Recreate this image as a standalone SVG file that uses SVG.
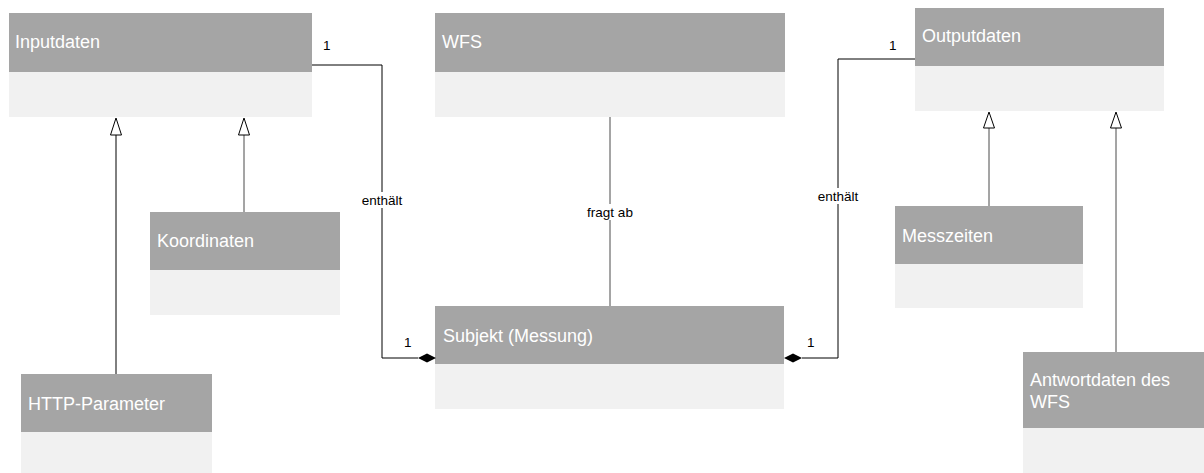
<svg xmlns="http://www.w3.org/2000/svg" width="1204" height="473" viewBox="0 0 1204 473">
<style>
.hd{fill:#a5a5a5;}
.bd{fill:#f1f1f1;}
.tt{font-family:"Liberation Sans",Arial,sans-serif;font-size:18px;fill:#ffffff;}
.lb{font-family:"Liberation Sans",Arial,sans-serif;font-size:13.5px;fill:#000000;}
.ln{fill:none;stroke:#000;stroke-width:1;}
.gl{fill:none;stroke:#4a4a4a;stroke-width:1;}
.tri{fill:#fff;stroke:#000;stroke-width:1;}
</style>
<rect width="1204" height="473" fill="#ffffff"/>
<g id="Inputdaten">
<rect class="hd" x="9" y="13" width="303" height="59"/>
<rect class="bd" x="9" y="72" width="303" height="45"/>
<text class="tt" x="15" y="48">Inputdaten</text>
</g>
<g id="WFS">
<rect class="hd" x="435" y="13" width="350" height="59"/>
<rect class="bd" x="435" y="72" width="350" height="45"/>
<text class="tt" x="442" y="48">WFS</text>
</g>
<g id="Outputdaten">
<rect class="hd" x="915" y="8" width="249" height="58"/>
<rect class="bd" x="915" y="66" width="249" height="45"/>
<text class="tt" x="922" y="42">Outputdaten</text>
</g>
<g id="Koordinaten">
<rect class="hd" x="150" y="212" width="190" height="58"/>
<rect class="bd" x="150" y="270" width="190" height="45"/>
<text class="tt" x="157" y="247">Koordinaten</text>
</g>
<g id="HTTP-Parameter">
<rect class="hd" x="21" y="374" width="191" height="58"/>
<rect class="bd" x="21" y="432" width="191" height="45"/>
<text class="tt" x="28" y="410">HTTP-Parameter</text>
</g>
<g id="Subjekt">
<rect class="hd" x="435" y="306" width="349" height="58"/>
<rect class="bd" x="435" y="364" width="349" height="45"/>
<text class="tt" x="443" y="342">Subjekt (Messung)</text>
</g>
<g id="Messzeiten">
<rect class="hd" x="895" y="206" width="188" height="58"/>
<rect class="bd" x="895" y="264" width="188" height="44"/>
<text class="tt" x="902" y="242">Messzeiten</text>
</g>
<g id="Antwortdaten">
<rect class="hd" x="1023" y="352" width="181" height="76"/>
<rect class="bd" x="1023" y="428" width="181" height="45"/>
<text class="tt" x="1030" y="386">Antwortdaten des</text>
<text class="tt" x="1030" y="408">WFS</text>
</g>
<g id="connectors">
<polyline class="ln" points="312,65 382,65 382,358 418,358"/>
<polygon points="418,358 427,353.5 436,358 427,362.5" fill="#000"/>
<text class="lb" x="323" y="50">1</text>
<rect x="359" y="192" width="46" height="16" fill="#fff"/>
<text class="lb" x="382" y="205" text-anchor="middle">enthält</text>
<text class="lb" x="404" y="347">1</text>
<polyline class="ln" points="915,59 838,59 838,358 802,358"/>
<polygon points="784,358 793,353.5 802,358 793,362.5" fill="#000"/>
<text class="lb" x="889" y="50">1</text>
<rect x="815" y="188" width="46" height="16" fill="#fff"/>
<text class="lb" x="838" y="201" text-anchor="middle">enthält</text>
<text class="lb" x="807" y="347">1</text>
<line class="gl" x1="610" y1="117" x2="610" y2="306"/>
<rect x="583" y="204" width="54" height="16" fill="#fff"/>
<text class="lb" x="610" y="217" text-anchor="middle">fragt ab</text>
<line class="ln" x1="116" y1="135" x2="116" y2="374"/>
<polygon class="tri" points="116,118 110.5,135 121.5,135"/>
<line class="gl" x1="244" y1="135" x2="244" y2="212"/>
<polygon class="tri" points="244,118 238.5,135 249.5,135"/>
<line class="gl" x1="989" y1="128" x2="989" y2="206"/>
<polygon class="tri" points="989,112 983.5,128 994.5,128"/>
<line class="gl" x1="1116" y1="128" x2="1116" y2="352"/>
<polygon class="tri" points="1116,112 1110.5,128 1121.5,128"/>
</g>
</svg>
